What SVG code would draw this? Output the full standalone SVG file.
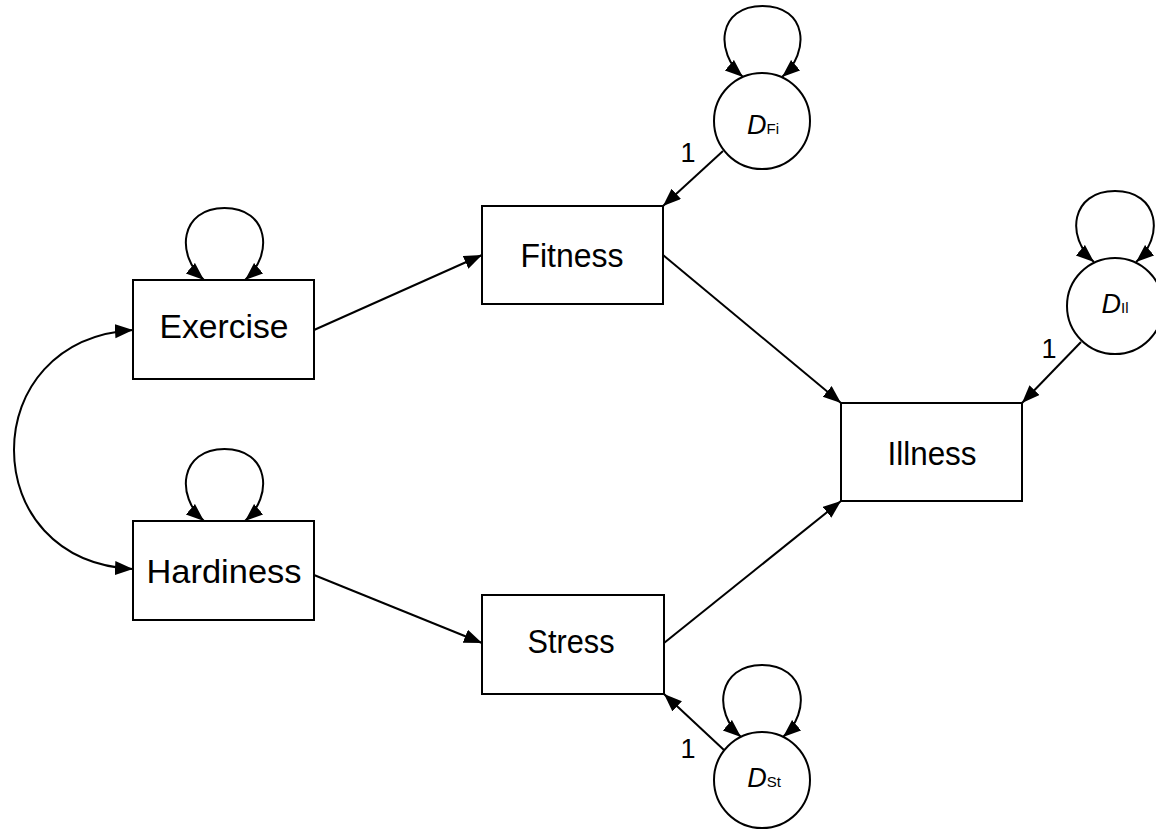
<svg xmlns="http://www.w3.org/2000/svg" width="1156" height="830" viewBox="0 0 1156 830">
<style>
.box{fill:#fff;stroke:#000;stroke-width:2}
.circ{fill:#fff;stroke:#000;stroke-width:2}
.lbl{font-family:"Liberation Sans",Arial,sans-serif;font-size:33px;fill:#000;text-anchor:middle}
.dl{font-family:"Liberation Sans",Arial,sans-serif;font-size:27px;fill:#000;text-anchor:middle}
.sub{font-size:15px}
.one{font-family:"Liberation Sans",Arial,sans-serif;font-size:27px;fill:#000;text-anchor:middle}
.c{fill:none;stroke:#000;stroke-width:2}
</style>
<defs>
<marker id="ah" markerUnits="userSpaceOnUse" markerWidth="20" markerHeight="16" refX="18" refY="7" orient="auto-start-reverse">
<path d="M0,0 L18,7 L0,14 z" fill="#000"/>
</marker>
</defs>
<rect width="1156" height="830" fill="#fff"/>
<g id="connectors">
<path class="c" d="M314,330 L482,255" marker-end="url(#ah)"/>
<path class="c" d="M314,575 L482,643" marker-end="url(#ah)"/>
<path class="c" d="M663,255 L841,403" marker-end="url(#ah)"/>
<path class="c" d="M664,643 L841,501" marker-end="url(#ah)"/>
<path class="c" d="M723,151 L663,206" marker-end="url(#ah)"/>
<path class="c" d="M1081,342 L1022,403" marker-end="url(#ah)"/>
<path class="c" d="M724,750 L664,694" marker-end="url(#ah)"/>
<path class="c" d="M133,330 C 55,335 14,390 14,450 C 14,510 55,565 133,569" marker-start="url(#ah)" marker-end="url(#ah)"/>
<path class="c" d="M204,280 C 175,255 180,208 224.5,208 C 269,208 274,255 245,280" marker-start="url(#ah)" marker-end="url(#ah)"/>
<path class="c" d="M204,521 C 175,496 180,449 224.5,449 C 269,449 274,496 245,521" marker-start="url(#ah)" marker-end="url(#ah)"/>
<path class="c" d="M743,77 C 714,52 718,6 762.5,6 C 807,6 811,52 782,77" marker-start="url(#ah)" marker-end="url(#ah)"/>
<path class="c" d="M1094,262 C 1065,237 1071,191 1115,191 C 1159,191 1165,237 1136,262" marker-start="url(#ah)" marker-end="url(#ah)"/>
<path class="c" d="M741,737 C 712,712 718,665 762,665 C 806,665 812,712 783,737" marker-start="url(#ah)" marker-end="url(#ah)"/>
<text class="one" x="688" y="162">1</text>
<text class="one" x="1049" y="358">1</text>
<text class="one" x="688" y="758">1</text>
</g>
<g id="exercise">
<rect class="box" x="133" y="280" width="181" height="99"/>
<text class="lbl" x="224" y="338" textLength="129" lengthAdjust="spacingAndGlyphs">Exercise</text>
</g>
<g id="hardiness">
<rect class="box" x="133" y="521" width="181" height="99"/>
<text class="lbl" x="224" y="583" textLength="155" lengthAdjust="spacingAndGlyphs">Hardiness</text>
</g>
<g id="fitness">
<rect class="box" x="482" y="206" width="181" height="98"/>
<text class="lbl" x="572" y="267" textLength="103" lengthAdjust="spacingAndGlyphs">Fitness</text>
</g>
<g id="stress">
<rect class="box" x="482" y="595" width="182" height="99"/>
<text class="lbl" x="571" y="653" textLength="87" lengthAdjust="spacingAndGlyphs">Stress</text>
</g>
<g id="illness">
<rect class="box" x="841" y="403" width="181" height="98"/>
<text class="lbl" x="932" y="465" textLength="89" lengthAdjust="spacingAndGlyphs">Illness</text>
</g>
<g id="d_fi">
<circle class="circ" cx="762" cy="121" r="48"/>
<text class="dl" x="763" y="134"><tspan font-style="italic">D</tspan><tspan class="sub">Fi</tspan></text>
</g>
<g id="d_il">
<circle class="circ" cx="1115" cy="306" r="48"/>
<text class="dl" x="1115" y="313"><tspan font-style="italic">D</tspan><tspan class="sub">Il</tspan></text>
</g>
<g id="d_st">
<circle class="circ" cx="762" cy="780" r="48"/>
<text class="dl" x="764" y="787"><tspan font-style="italic">D</tspan><tspan class="sub">St</tspan></text>
</g>
</svg>
